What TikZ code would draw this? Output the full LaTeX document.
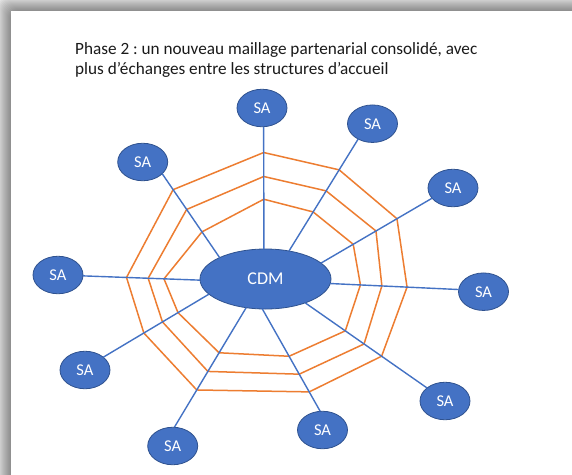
\documentclass[tikz,border=0pt]{standalone}
\usepackage{fontspec}
\setmainfont{Carlito}
\frenchspacing
\usetikzlibrary{shapes.geometric,calc}
\definecolor{saBlue}{HTML}{4472C4}
\definecolor{saBorder}{HTML}{2F528F}
\definecolor{webOrange}{HTML}{ED7D31}
\definecolor{titleInk}{HTML}{1A1A1A}
\tikzset{
  sanode/.style={ellipse, fill=saBlue, draw=saBorder, line width=0.8pt,
    minimum width=50pt, minimum height=37.5pt, inner sep=0pt, outer sep=0pt,
    text=white, font=\fontsize{16.5}{16.5}\selectfont},
  cdmnode/.style={sanode, minimum width=131pt, minimum height=60pt,
    font=\fontsize{18}{18}\selectfont},
  spoke/.style={draw=saBlue, line width=1.4pt},
  web/.style={draw=webOrange, line width=1.5pt, line join=miter},
  titletext/.style={anchor=base west, inner sep=0pt, text=titleInk,
    font=\fontsize{17.2}{20}\selectfont}
}
\begin{document}
\begin{tikzpicture}[x=1pt,y=-1pt]
\useasboundingbox (0,0) rectangle (572,474);
% page shadow
\begin{scope}
\clip (-5,-5) rectangle (640,540);
\foreach \k in {1,...,16}
  \fill[black,opacity=0.036,rounded corners=9pt] ({11-\k},{11-\k}) rectangle (640,540);
\end{scope}
\fill[white] (11,11) rectangle (640,540);
% title
\node[titletext] (t1) at (75,54) {Phase 2 : un nouveau maillage partenarial consolidé, avec};
\node[titletext] (t2) at (75,74) {plus d’échanges entre les structures d’accueil};
% nodes
\node[cdmnode] (cdm) at (265.5,279) {CDM};
\node[sanode] (sa1) at (262,108) {SA};
\node[sanode] (sa2) at (372.5,123.7) {SA};
\node[sanode] (sa3) at (453,188) {SA};
\node[sanode] (sa4) at (483.5,291.7) {SA};
\node[sanode] (sa5) at (445,401) {SA};
\node[sanode] (sa6) at (322.5,430) {SA};
\node[sanode] (sa7) at (172.7,446) {SA};
\node[sanode] (sa8) at (85,370) {SA};
\node[sanode] (sa9) at (58,275) {SA};
\node[sanode] (sa10) at (142.7,162) {SA};
% spoke end points
\foreach \i/\a/\b in {1/93/275, 2/50/227, 3/16/206, 4/356/175, 5/329/144,
                      6/264/97, 7/236/85, 8/195/35, 9/181/358, 10/155/329}{
  \coordinate (c\i) at (cdm.\a);
  \coordinate (s\i) at (sa\i.\b);
}
% web points
\foreach \i/\o/\m/\n in {1/0.789/0.593/0.407, 2/0.725/0.537/0.349, 3/0.684/0.495/0.29,
    4/0.598/0.402/0.235, 5/0.627/0.483/0.329, 6/0.81/0.637/0.462,
    7/0.688/0.533/0.377, 8/0.616/0.44/0.293, 9/0.628/0.443/0.308, 10/0.81/0.574/0.307}{
  \coordinate (o\i) at ($(c\i)!\o!(s\i)$);
  \coordinate (m\i) at ($(c\i)!\m!(s\i)$);
  \coordinate (n\i) at ($(c\i)!\n!(s\i)$);
}
% web
\draw[web] (o1) -- (o2) -- (o3) -- (o4) -- (o5) -- (o6) -- (o7) -- (o8) -- (o9) -- (o10) -- cycle;
\draw[web] (m1) -- (m2) -- (m3) -- (m4) -- (m5) -- (m6) -- (m7) -- (m8) -- (m9) -- (m10) -- cycle;
\draw[web] (n1) -- (n2) -- (n3) -- (n4) -- (n5) -- (n6) -- (n7) -- (n8) -- (n9) -- (n10) -- cycle;
% spokes
\foreach \i in {1,...,10}
  \draw[spoke] (c\i) -- (s\i);
\end{tikzpicture}
\end{document}
